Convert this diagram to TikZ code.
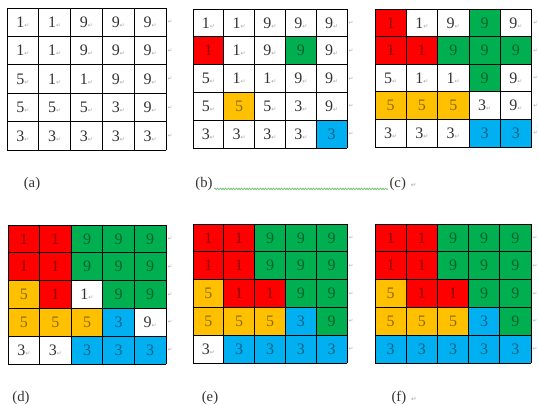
\documentclass[tikz,border=0pt]{standalone}
\usepackage{fontspec}
\setmainfont{Liberation Serif}
\newfontfamily\symfont{DejaVu Sans}
\usetikzlibrary{decorations.pathmorphing}
\definecolor{cred}{HTML}{FF0000}
\definecolor{cgreen}{HTML}{00B050}
\definecolor{corange}{HTML}{FFC000}
\definecolor{cblue}{HTML}{00B0F0}
\newcommand{\pk}{{\symfont\fontsize{4.5}{5}\selectfont\color{black!35}↵}}
\tikzset{
  cell/.style={inner sep=0pt, outer sep=0pt, font=\fontsize{12}{13}\selectfont},
  cW/.style={fill=white, text=black!80, execute at end node=\pk},
  cR/.style={fill=cred, text=cred!55!black},
  cG/.style={fill=cgreen, text=cgreen!55!black},
  cO/.style={fill=corange, text=corange!55!black},
  cB/.style={fill=cblue, text=cblue!55!black},
  gridline/.style={black, line width=0.6pt},
  endmark/.style={inner sep=0pt, font=\symfont\fontsize{4}{5}\selectfont, text=black!35},
  lab/.style={inner sep=1pt, font=\fontsize{11}{12}\selectfont, text=black!80},
  squig/.style={draw=green!45!gray!80, line width=0.6pt, decorate, decoration={snake, amplitude=0.5pt, segment length=2pt}}
}
\newcommand{\drawgrid}[6]{%
  \foreach [count=\i from 0] \c/\v in {#6} {
    \pgfmathtruncatemacro\r{div(\i,5)}
    \pgfmathtruncatemacro\k{mod(\i,5)}
    \node[cell, c\c, minimum width=#4*0.75pt, minimum height=#5*0.75pt]
      (#1-\r-\k) at ({#2+(\k+0.5)*#4},{#3+(\r+0.5)*#5}) {\v};
  }
  \foreach \j in {0,...,5} {
    \draw[gridline] ({#2+\j*#4},#3) -- ({#2+\j*#4},{#3+5*#5});
    \draw[gridline] (#2,{#3+\j*#5}) -- ({#2+5*#4},{#3+\j*#5});
  }
  \foreach \r in {0,...,4} {
    \node[endmark] (#1-end-\r) at ({#2+5*#4+4},{#3+(\r+0.5)*#5}) {↵};
  }
}
\begin{document}
\begin{tikzpicture}[x=0.75pt, y=-0.75pt]
\fill[white] (0,0) rectangle (539,406);
\useasboundingbox (0,0) rectangle (539,406);

\drawgrid{a}{7}{8}{31.8}{28.4}{W/1,W/1,W/9,W/9,W/9, W/1,W/1,W/9,W/9,W/9, W/5,W/1,W/1,W/9,W/9, W/5,W/5,W/5,W/3,W/9, W/3,W/3,W/3,W/3,W/3}
\drawgrid{b}{193}{9}{30.8}{27.8}{W/1,W/1,W/9,W/9,W/9, R/1,W/1,W/9,G/9,W/9, W/5,W/1,W/1,W/9,W/9, W/5,O/5,W/5,W/3,W/9, W/3,W/3,W/3,W/3,B/3}
\drawgrid{c}{375}{9}{31.3}{27.6}{R/1,W/1,W/9,G/9,W/9, R/1,R/1,G/9,G/9,G/9, W/5,W/1,W/1,G/9,W/9, O/5,O/5,O/5,W/3,W/9, W/3,W/3,W/3,B/3,B/3}
\drawgrid{d}{8}{225}{31.6}{27.8}{R/1,R/1,G/9,G/9,G/9, R/1,R/1,G/9,G/9,G/9, O/5,R/1,W/1,G/9,G/9, O/5,O/5,O/5,B/3,W/9, W/3,W/3,B/3,B/3,B/3}
\drawgrid{e}{193}{224}{30.8}{27.8}{R/1,R/1,G/9,G/9,G/9, R/1,R/1,G/9,G/9,G/9, O/5,R/1,R/1,G/9,G/9, O/5,O/5,O/5,B/3,G/9, W/3,B/3,B/3,B/3,B/3}
\drawgrid{f}{375}{224}{31.2}{27.8}{R/1,R/1,G/9,G/9,G/9, R/1,R/1,G/9,G/9,G/9, O/5,R/1,R/1,G/9,G/9, O/5,O/5,O/5,B/3,G/9, B/3,B/3,B/3,B/3,B/3}

\node[lab] (la) at (32,184) {(a)};
\node[lab] (lb) at (204,184) {(b)};
\node[lab, anchor=west] (lc) at (388,184) {(c)\,\,{\symfont\fontsize{5}{6}\selectfont\color{black!35}↵}};
\node[lab] (ld) at (21,398) {(d)};
\node[lab] (le) at (210,398) {(e)};
\node[lab, anchor=west] (lf) at (390,398) {(f)\,\,{\symfont\fontsize{5}{6}\selectfont\color{black!35}↵}};
\draw[squig] ([yshift=2.5pt]lb.south east) -- ([yshift=2.5pt]lc.south west);
\end{tikzpicture}
\end{document}
